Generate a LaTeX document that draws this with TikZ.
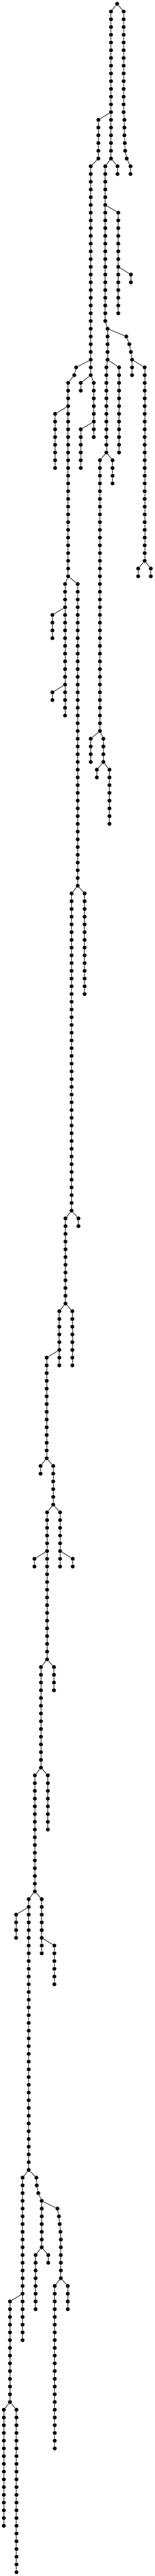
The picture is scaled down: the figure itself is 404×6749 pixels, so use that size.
\documentclass[tikz,border=0pt]{standalone}
\tikzset{
  dot/.style={circle,fill=black,draw=none,inner sep=0pt,minimum size=5.2pt},
  edge/.style={line width=0.6pt,black}
}
\newcommand\dotat[2]{\node[dot] (n#1-#2) at (#1,{10+20.268*#2}) {};}
\newcommand\ychain[3]{%
  \foreach \d in {#2,...,#3}{\node[dot] (n#1-\d) at (#1,{10+20.268*\d}) {};}%
  \ifnum#2<#3\relax
    \pgfmathtruncatemacro\dstart{#2+1}%
    \foreach \d [remember=\d as \p (initially #2)] in {\dstart,...,#3}{\draw[edge] (n#1-\p) -- (n#1-\d);}%
  \fi}
\newcommand\lnk[4]{\draw[edge] (n#1-#2) -- (n#3-#4);}
\begin{document}
\begin{tikzpicture}[x=0.5pt,y=-0.5pt]
\useasboundingbox (0,0) rectangle (404,6749);
% nodes and vertical chains
\dotat{306}{0}
\ychain{290}{1}{20}
\ychain{307}{21}{22}
\ychain{257}{15}{20}
\ychain{323}{1}{14}
\ychain{325}{15}{17}
\dotat{326}{18}
\dotat{327}{19}
\dotat{331}{20}
\ychain{341}{21}{22}
\ychain{237}{21}{48}
\ychain{211}{49}{50}
\ychain{245}{49}{56}
\ychain{211}{55}{60}
\dotat{199}{47}
\dotat{194}{48}
\ychain{178}{49}{74}
\ychain{144}{53}{60}
\ychain{170}{75}{92}
\ychain{137}{79}{82}
\ychain{137}{89}{90}
\ychain{203}{75}{114}
\ychain{221}{115}{128}
\ychain{187}{115}{156}
\ychain{205}{157}{158}
\ychain{171}{157}{168}
\ychain{189}{169}{176}
\ychain{155}{169}{176}
\ychain{122}{175}{188}
\ychain{106}{189}{190}
\ychain{139}{189}{194}
\ychain{157}{195}{202}
\ychain{190}{201}{202}
\ychain{123}{195}{214}
\ychain{90}{201}{202}
\ychain{141}{215}{218}
\ychain{107}{215}{228}
\ychain{125}{229}{236}
\ychain{91}{229}{244}
\ychain{109}{245}{252}
\ychain{142}{251}{256}
\ychain{75}{245}{280}
\ychain{42}{247}{250}
\ychain{59}{281}{302}
\ychain{26}{297}{310}
\ychain{10}{311}{326}
\ychain{43}{311}{332}
\dotat{95}{281}
\dotat{96}{282}
\dotat{100}{283}
\ychain{109}{284}{290}
\ychain{126}{291}{292}
\ychain{93}{291}{298}
\dotat{150}{285}
\dotat{154}{286}
\dotat{156}{287}
\dotat{158}{288}
\ychain{159}{289}{294}
\ychain{177}{295}{298}
\ychain{143}{295}{316}
\ychain{275}{21}{41}
\ychain{281}{42}{46}
\ychain{309}{27}{40}
\ychain{342}{35}{36}
\dotat{330}{43}
\dotat{338}{44}
\dotat{342}{45}
\ychain{345}{46}{48}
\ychain{378}{47}{72}
\ychain{361}{73}{74}
\ychain{394}{73}{74}
\ychain{311}{47}{58}
\ychain{278}{47}{58}
\ychain{294}{59}{62}
\ychain{261}{59}{94}
\ychain{237}{95}{98}
\ychain{270}{95}{98}
\ychain{253}{99}{100}
\ychain{286}{99}{106}
% branch links
\lnk{306}{0}{290}{1}
\lnk{306}{0}{323}{1}
\lnk{290}{14}{257}{15}
\lnk{290}{20}{275}{21}
\lnk{290}{20}{307}{21}
\lnk{257}{20}{237}{21}
\lnk{323}{14}{325}{15}
\lnk{325}{17}{326}{18}
\lnk{326}{18}{327}{19}
\lnk{327}{19}{331}{20}
\lnk{331}{20}{341}{21}
\lnk{237}{46}{199}{47}
\lnk{199}{47}{194}{48}
\lnk{194}{48}{178}{49}
\lnk{237}{48}{211}{49}
\lnk{237}{48}{245}{49}
\lnk{245}{54}{211}{55}
\lnk{178}{52}{144}{53}
\lnk{178}{74}{170}{75}
\lnk{178}{74}{203}{75}
\lnk{170}{78}{137}{79}
\lnk{170}{88}{137}{89}
\lnk{203}{114}{187}{115}
\lnk{203}{114}{221}{115}
\lnk{187}{156}{171}{157}
\lnk{187}{156}{205}{157}
\lnk{171}{168}{155}{169}
\lnk{171}{168}{189}{169}
\lnk{155}{174}{122}{175}
\lnk{122}{188}{106}{189}
\lnk{122}{188}{139}{189}
\lnk{139}{194}{123}{195}
\lnk{139}{194}{157}{195}
\lnk{157}{200}{190}{201}
\lnk{123}{200}{90}{201}
\lnk{123}{214}{107}{215}
\lnk{123}{214}{141}{215}
\lnk{107}{228}{91}{229}
\lnk{107}{228}{125}{229}
\lnk{91}{244}{75}{245}
\lnk{91}{244}{109}{245}
\lnk{109}{250}{142}{251}
\lnk{75}{246}{42}{247}
\lnk{75}{280}{59}{281}
\lnk{75}{280}{95}{281}
\lnk{95}{281}{96}{282}
\lnk{96}{282}{100}{283}
\lnk{100}{283}{109}{284}
\lnk{109}{284}{150}{285}
\lnk{150}{285}{154}{286}
\lnk{154}{286}{156}{287}
\lnk{156}{287}{158}{288}
\lnk{158}{288}{159}{289}
\lnk{109}{290}{93}{291}
\lnk{109}{290}{126}{291}
\lnk{159}{294}{143}{295}
\lnk{159}{294}{177}{295}
\lnk{59}{296}{26}{297}
\lnk{26}{310}{10}{311}
\lnk{26}{310}{43}{311}
\lnk{275}{26}{309}{27}
\lnk{309}{34}{342}{35}
\lnk{275}{41}{281}{42}
\lnk{281}{42}{330}{43}
\lnk{330}{43}{338}{44}
\lnk{338}{44}{342}{45}
\lnk{342}{45}{345}{46}
\lnk{345}{46}{378}{47}
\lnk{378}{72}{361}{73}
\lnk{378}{72}{394}{73}
\lnk{281}{46}{278}{47}
\lnk{281}{46}{311}{47}
\lnk{278}{58}{261}{59}
\lnk{278}{58}{294}{59}
\lnk{261}{94}{237}{95}
\lnk{261}{94}{270}{95}
\lnk{270}{98}{253}{99}
\lnk{270}{98}{286}{99}
\end{tikzpicture}
\end{document}
